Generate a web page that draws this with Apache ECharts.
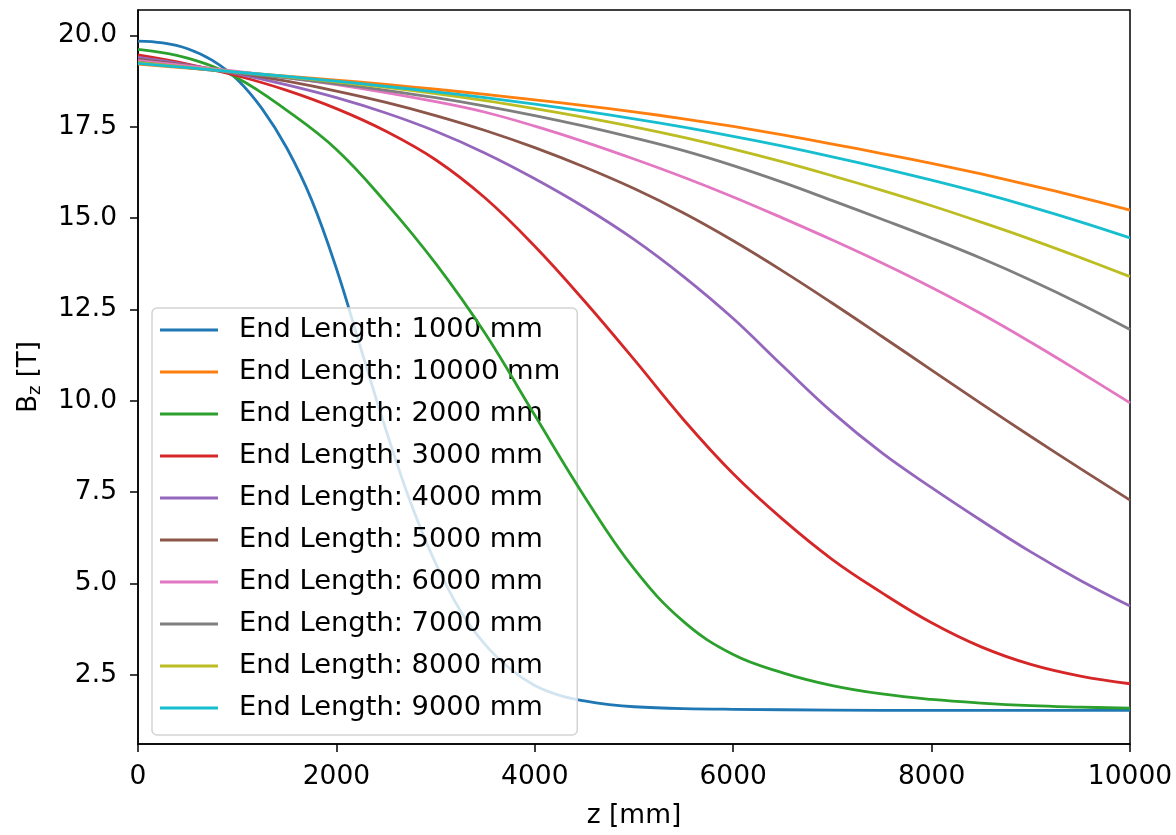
<!DOCTYPE html>
<html>
<head>
<meta charset="utf-8">
<script src="https://cdn.jsdelivr.net/npm/echarts@6/dist/echarts.min.js"></script>
<style>
html,body{margin:0;padding:0;background:#fff;}
#chart{width:1176px;height:835px;}
</style>
</head>
<body>
<div id="chart"></div>
<script>
// ---- data ----
const seriesNames = [
  'End Length: 1000 mm', 'End Length: 10000 mm', 'End Length: 2000 mm',
  'End Length: 3000 mm', 'End Length: 4000 mm', 'End Length: 5000 mm',
  'End Length: 6000 mm', 'End Length: 7000 mm', 'End Length: 8000 mm',
  'End Length: 9000 mm'
];
const colors = ['#1f77b4','#ff7f0e','#2ca02c','#d62728','#9467bd','#8c564b','#e377c2','#7f7f7f','#bcbd22','#17becf'];

// z positions [mm]
const zFine = [0,250,500,750,1000,1250,1500,1750,2000,2250,2500,2750,3000,3250,3500,3750,4000,4250,4500,4750,5000,5500,6000,7000,8000,9000,10000];
const zCoarse = [0,500,1000,1500,2000,2500,3000,3500,4000,4500,5000,5500,6000,6500,7000,7500,8000,8500,9000,9500,10000];

// Bz [T]
const bz1000  = [19.85,19.80,19.64,19.32,18.80,18.00,16.92,15.50,13.62,11.40,9.20,7.20,5.55,4.25,3.32,2.66,2.20,1.93,1.78,1.68,1.62,1.57,1.55,1.53,1.52,1.52,1.52];
const bz10000 = [19.22,19.11,19.00,18.89,18.78,18.66,18.53,18.39,18.24,18.08,17.91,17.72,17.51,17.28,17.03,16.77,16.50,16.21,15.90,15.57,15.22];
const bz2000  = [19.62,19.38,18.84,17.95,16.88,15.42,13.76,11.84,9.60,7.38,5.40,3.95,3.05,2.55,2.20,1.97,1.82,1.72,1.65,1.61,1.58];
const bz3000  = [19.47,19.22,18.90,18.50,18.00,17.38,16.60,15.55,14.23,12.73,11.13,9.48,8.00,6.75,5.65,4.74,3.92,3.26,2.78,2.46,2.25];
const bz4000  = [19.40,19.20,18.95,18.65,18.30,17.88,17.38,16.78,16.08,15.30,14.42,13.40,12.25,10.95,9.68,8.57,7.62,6.72,5.86,5.08,4.38];
const bz5000  = [19.35,19.18,18.98,18.75,18.48,18.17,17.81,17.40,16.93,16.40,15.81,15.14,14.38,13.55,12.67,11.76,10.84,9.92,9.02,8.14,7.28];
const bz6000  = [19.31,19.17,19.02,18.85,18.66,18.44,18.19,17.90,17.52,17.09,16.62,16.12,15.58,15.00,14.40,13.77,13.10,12.38,11.60,10.78,9.94];
const bz7000  = [19.27,19.12,18.98,18.84,18.68,18.50,18.30,18.07,17.81,17.52,17.20,16.85,16.44,15.98,15.48,14.97,14.45,13.90,13.30,12.65,11.95];
const bz8000  = [19.26,19.13,19.00,18.87,18.73,18.58,18.41,18.22,18.00,17.76,17.50,17.21,16.89,16.54,16.16,15.76,15.34,14.89,14.42,13.92,13.40];
const bz9000  = [19.24,19.12,19.00,18.88,18.75,18.61,18.46,18.30,18.12,17.93,17.72,17.49,17.24,16.97,16.68,16.37,16.04,15.69,15.31,14.90,14.46];

const xTicks = [0,2000,4000,6000,8000,10000];
const yTicks = [2.5,5.0,7.5,10.0,12.5,15.0,17.5,20.0];

// ---- chart ----
const seriesX = [zFine, zCoarse, zCoarse, zCoarse, zCoarse, zCoarse, zCoarse, zCoarse, zCoarse, zCoarse];
const seriesY = [bz1000, bz10000, bz2000, bz3000, bz4000, bz5000, bz6000, bz7000, bz8000, bz9000];

const FONT = 'DejaVu Sans';
const chart = echarts.init(document.getElementById('chart'), null, {renderer: 'canvas'});
const series = seriesNames.map((name, i) => ({
  name: name,
  type: 'line',
  data: seriesX[i].map((z, k) => [z, seriesY[i][k]]),
  showSymbol: false,
  symbol: 'none',
  smooth: 0.4,
  lineStyle: {width: 2.8, color: colors[i]},
  itemStyle: {color: colors[i]},
  emphasis: {disabled: true},
  silent: true,
  z: 2 + i
}));

chart.setOption({
  animation: false,
  backgroundColor: '#ffffff',
  color: colors,
  grid: {
    left: 138, right: 46, top: 10, bottom: 86,
    show: true, borderColor: '#000', borderWidth: 1.5, backgroundColor: 'transparent'
  },
  legend: {
    data: seriesNames,
    orient: 'vertical',
    left: 152, top: 308,
    padding: [7, 17, 12, 8],
    itemGap: 12,
    itemWidth: 58,
    itemHeight: 3,
    icon: 'rect',
    selectedMode: false,
    backgroundColor: 'rgba(255,255,255,0.8)',
    borderColor: '#d3d3d3',
    borderWidth: 1.5,
    borderRadius: 5,
    textStyle: {fontFamily: FONT, fontSize: 27.3, color: '#000', lineHeight: 30, padding: [0,0,0,16]}
  },
  xAxis: {
    type: 'value',
    min: 0, max: 10000, interval: 2000,
    name: 'z [mm]',
    nameLocation: 'middle',
    nameGap: 59,
    nameTextStyle: {fontFamily: FONT, fontSize: 26.5, color: '#000'},
    axisLine: {show: true, onZero: false, lineStyle: {color: '#000', width: 1.5}},
    axisTick: {show: true, inside: false, length: 8, lineStyle: {color: '#000', width: 1.5}, customValues: xTicks},
    axisLabel: {fontFamily: FONT, fontSize: 26.5, color: '#000', margin: 20, customValues: xTicks, formatter: v => String(v)},
    splitLine: {show: false}
  },
  yAxis: {
    type: 'value',
    min: 0.6, max: 20.7,
    name: '{a|B}{b|z}{a| [T]}',
    nameLocation: 'middle',
    nameRotate: 90,
    nameGap: 92,
    nameTextStyle: {
      fontFamily: FONT, color: '#000',
      rich: {
        a: {fontFamily: FONT, fontSize: 26, color: '#000', lineHeight: 34},
        b: {fontFamily: FONT, fontSize: 18, color: '#000', lineHeight: 34, padding: [12,0,0,0]}
      }
    },
    axisLine: {show: true, onZero: false, lineStyle: {color: '#000', width: 1.5}},
    axisTick: {show: true, inside: false, length: 8, lineStyle: {color: '#000', width: 1.5}, customValues: yTicks},
    axisLabel: {fontFamily: FONT, fontSize: 26.5, color: '#000', margin: 21, customValues: yTicks, formatter: v => v.toFixed(1)},
    splitLine: {show: false}
  },
  series: series
});
</script>
</body>
</html>
